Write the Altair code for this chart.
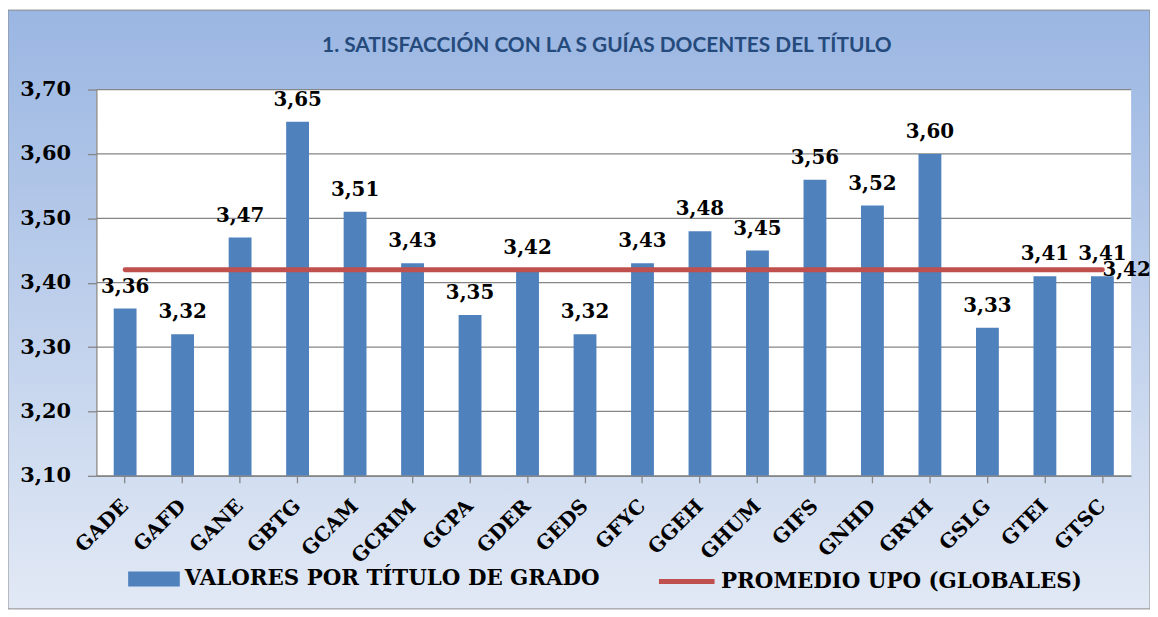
import altair as alt
import pandas as pd

categorias = ["GADE", "GAFD", "GANE", "GBTG", "GCAM", "GCRIM", "GCPA", "GDER", "GEDS",
              "GFYC", "GGEH", "GHUM", "GIFS", "GNHD", "GRYH", "GSLG", "GTEI", "GTSC"]
valores = [3.36, 3.32, 3.47, 3.65, 3.51, 3.43, 3.35, 3.42, 3.32,
           3.43, 3.48, 3.45, 3.56, 3.52, 3.60, 3.33, 3.41, 3.41]
promedio = [3.42, 3.42, 3.42, 3.42, 3.42, 3.42, 3.42, 3.42, 3.42,
            3.42, 3.42, 3.42, 3.42, 3.42, 3.42, 3.42, 3.42, 3.42]
ticks_y = [3.10, 3.20, 3.30, 3.40, 3.50, 3.60, 3.70]
base_y = 3.10
serie_barras = "VALORES POR TÍTULO DE GRADO"
serie_linea = "PROMEDIO UPO (GLOBALES)"
titulo = "1. SATISFACCIÓN CON LA S GUÍAS DOCENTES DEL TÍTULO"

W, H = 1042, 389
PL, PT, PR, PB = 89, 80, 19, 134

df = pd.DataFrame({"titulo": categorias, "valor": valores, "promedio": promedio,
                   "s1": serie_barras, "s2": serie_linea})

SERIF = "DejaVu Serif"
GRAY = "#868686"

yscale = alt.Scale(domain=[3.1, 3.7], nice=False, zero=False)
yaxis = alt.Axis(values=ticks_y, format=".2f", grid=False, domainColor=GRAY, domainWidth=1.3,
                 tickColor=GRAY, tickWidth=1.3, tickSize=9, labelFont=SERIF, labelFontWeight="bold",
                 labelFontSize=21, labelColor="black", labelPadding=17, zindex=1)
xscale = alt.Scale(paddingInner=0.6, paddingOuter=0.3)
xaxis = alt.Axis(labelAngle=-45, labelAlign="right", labelBaseline="middle", labelPadding=20,
                 labelFont=SERIF, labelFontWeight="bold", labelFontSize=20, labelColor="black",
                 domainColor=GRAY, domainWidth=1.3, tickColor=GRAY, tickWidth=1.3, tickSize=7,
                 zindex=1)

X = alt.X("titulo:N", sort=categorias, scale=xscale, axis=xaxis, title=None)

deco = alt.Chart(alt.Data(values=[{"k": 1}]))

gradiente = alt.LinearGradient(
    gradient="linear", x1=0, x2=0, y1=0, y2=1,
    stops=[alt.GradientStop(offset=0, color="#9ab6e2"),
           alt.GradientStop(offset=1, color="#e2e9f5")])

bg = deco.mark_rect(color=gradiente, stroke="#8c8c8c", strokeWidth=1).encode(
    x=alt.value(-PL), x2=alt.value(W + PR), y=alt.value(-PT), y2=alt.value(H + PB))
plotbg = deco.mark_rect(color="white").encode(
    x=alt.value(0), x2=alt.value(W), y=alt.value(0), y2=alt.value(H))

grid = alt.Chart(pd.DataFrame({"t": ticks_y})).mark_rule(color=GRAY, strokeWidth=1.3).encode(
    y=alt.Y("t:Q", scale=yscale, axis=yaxis, title=None),
    x=alt.value(0), x2=alt.value(W))

base = alt.Chart(df)

bars = base.mark_bar(size=23).encode(
    x=X,
    y=alt.Y("valor:Q", scale=yscale, axis=yaxis, title=None),
    y2=alt.datum(base_y),
    color=alt.Color("s1:N", scale=alt.Scale(domain=[serie_barras], range=["#4f81bd"]),
                    title=None,
                    legend=alt.Legend(orient="none", legendX=32, legendY=467, padding=0,
                                      symbolType="M-1,-0.29H1V0.29H-1Z", symbolSize=2704,
                                      symbolStrokeWidth=0, symbolOpacity=1,
                                      labelFont=SERIF, labelFontWeight="bold", labelFontSize=21.5,
                                      labelColor="black", labelLimit=800, labelOffset=5)),
)

labels = base.mark_text(font=SERIF, fontWeight="bold", fontSize=20, color="black",
                        baseline="alphabetic", dy=-16).encode(
    x=X, y=alt.Y("valor:Q", scale=yscale, axis=yaxis, title=None),
    text=alt.Text("valor:Q", format=".2f"))

line = base.mark_line(strokeWidth=5, strokeCap="round").encode(
    x=X, y=alt.Y("promedio:Q", scale=yscale, axis=yaxis, title=None),
    stroke=alt.Stroke("s2:N", scale=alt.Scale(domain=[serie_linea], range=["#c0504d"]),
                      title=None,
                      legend=alt.Legend(orient="none", legendX=564, legendY=465, padding=0,
                                        symbolType="stroke", symbolSize=3136, symbolStrokeWidth=5,
                                        labelFont=SERIF, labelFontWeight="bold", labelFontSize=21.5,
                                        labelColor="black", labelLimit=800, labelOffset=4)))

linelabel = base.transform_filter(alt.datum.titulo == "GTSC").mark_text(
    font=SERIF, fontWeight="bold", fontSize=20, color="black", align="left",
    baseline="middle", dx=0).encode(
    x=X, y=alt.Y("promedio:Q", scale=yscale, axis=yaxis, title=None),
    text=alt.Text("promedio:Q", format=".2f"))

title = deco.mark_text(text=titulo, font="Lato", fontWeight="bold", fontSize=21,
                       color="#254a7c", align="center", baseline="alphabetic").encode(
    x=alt.value(514), y=alt.value(-38))

chart = alt.layer(bg, plotbg, grid, bars, labels, line, linelabel, title).properties(
    width=W, height=H,
    padding={"left": PL, "top": PT, "right": PR, "bottom": PB},
    autosize=alt.AutoSizeParams(type="none"),
).configure(
    locale=alt.Locale(number=alt.NumberLocale(decimal=",", thousands=".", grouping=[3],
                                              currency=["", " €"])),
    view=alt.ViewConfig(strokeWidth=0),
)

chart.save("out.html", embed_options={"renderer": "svg", "actions": False})
